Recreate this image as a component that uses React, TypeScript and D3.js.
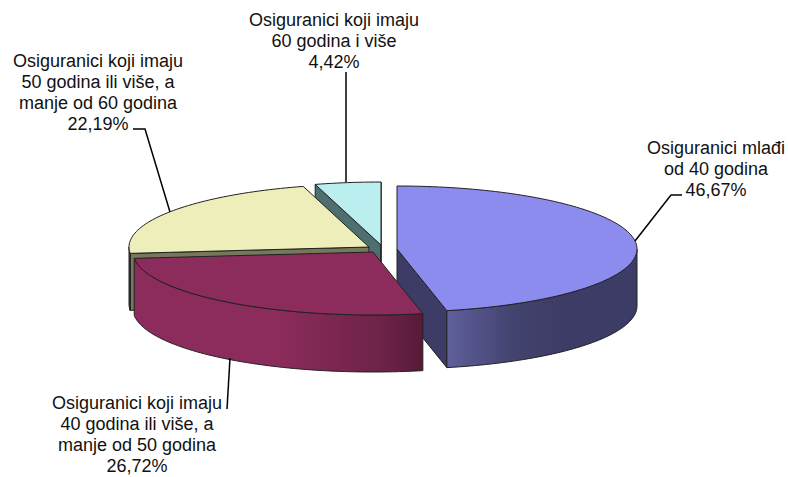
import React from "react";
import * as d3 from "d3";

const categories = ["Osiguranici mlađi od 40 godina", "Osiguranici koji imaju 40 godina ili više, a manje od 50 godina", "Osiguranici koji imaju 50 godina ili više, a manje od 60 godina", "Osiguranici koji imaju 60 godina i više"];
const shares = [46.67, 26.72, 22.19, 4.42];
const valueLabels = ["46,67%", "26,72%", "22,19%", "4,42%"];
const labelLines = [
  ["Osiguranici mlađi", "od 40 godina", "46,67%"],
  ["Osiguranici koji imaju", "40 godina ili više, a", "manje od 50 godina", "26,72%"],
  ["Osiguranici koji imaju", "50 godina ili više, a", "manje od 60 godina", "22,19%"],
  ["Osiguranici koji imaju", "60 godina i više", "4,42%"],
];
const apexes = [[397, 249], [373, 252], [369, 247], [381, 245]];
const labelAnchors = [[716, 154], [137, 409], [98, 67], [334, 26]];
const leaders = [
  [[635, 241], [671, 195], [682, 195]],
  [[230, 358], [227, 409]],
  [[170, 212], [145, 129], [133, 129]],
  [[346, 182], [346, 72]],
];
const topColors = ["#8c8cee", "#8b2c5c", "#eeeebb", "#bbeeee"];
const sideColors = ["#3c3c66", "#8b2c5c", "#77775c", "#4f6f6f"];
const paintOrder = [3, 2, 0, 1];
const RX = 240, RY = 63, DEPTH = 57, LH = 20.9;

const pieGen = d3.pie<number>().sort(null).value((d) => d);
const arcs = pieGen(shares);
const line = d3.line();

function pts(i: number, a0: number, a1: number, dy = 0) {
  const [cx, cy] = apexes[i];
  const n = Math.max(2, Math.ceil(Math.abs(a1 - a0) * 40));
  return d3.range(n + 1).map((k) => {
    const a = a0 + ((a1 - a0) * k) / n;
    return [cx + RX * Math.sin(a), cy - RY * Math.cos(a) + dy] as [number, number];
  });
}
const apex = (i: number, dy = 0) => [apexes[i][0], apexes[i][1] + dy] as [number, number];

function Slice({ i }: { i: number }) {
  const { startAngle: s, endAngle: e } = arcs[i];
  const top = [apex(i), ...pts(i, s, e)];
  const front = Math.max(s, Math.PI / 2);
  const rimEnd = Math.min(e, 1.5 * Math.PI);
  const rim = front < rimEnd ? [...pts(i, front, rimEnd), ...pts(i, rimEnd, front, DEPTH)] : null;
  const rimLeftYellow = i === 2 ? [...pts(i, s, s + 0.02), ...pts(i, s + 0.02, s, DEPTH)] : null;
  const cutFace = (a: number) => [apex(i), pts(i, a, a)[0], pts(i, a, a, DEPTH)[0], apex(i, DEPTH)];
  const fill = i === 0 ? "url(#blueSide)" : i === 1 ? "url(#maroonSide)" : sideColors[i];
  const stroke = { stroke: "#222", strokeWidth: 1, strokeLinejoin: "round" as const };
  return (
    <g>
      {i === 0 && <path d={line(cutFace(e))! + "Z"} fill={sideColors[0]} {...stroke} />}
      {i === 2 && <path d={line(cutFace(s))! + "Z"} fill={sideColors[2]} {...stroke} />}
      {i === 3 && <path d={line(cutFace(s))! + "Z"} fill={sideColors[3]} {...stroke} />}
      {i === 3 && <path d={line(cutFace(e))! + "Z"} fill={sideColors[3]} {...stroke} />}
      {rim && <path d={line(rim)! + "Z"} fill={fill} {...stroke} />}
      {rimLeftYellow && <path d={line(rimLeftYellow)! + "Z"} fill={fill} {...stroke} />}
      <path d={line(top)! + "Z"} fill={topColors[i]} {...stroke} />
    </g>
  );
}

export default function App() {
  return (
    <svg width={788} height={477} style={{ position: "absolute", left: 0, top: 0, background: "#fff" }} fontFamily="'Liberation Sans', Arial, sans-serif" fontSize={18} aria-label={categories.join("; ") + " " + valueLabels.join("; ")}>
      <defs>
        <linearGradient id="blueSide" x1="0" x2="1" y1="0" y2="0">
          <stop offset="0" stopColor="#5f5f9d" />
          <stop offset="0.35" stopColor="#43436f" />
          <stop offset="0.6" stopColor="#3c3c66" />
          <stop offset="1" stopColor="#3c3c66" />
        </linearGradient>
        <linearGradient id="maroonSide" x1="0" x2="1" y1="0" y2="0">
          <stop offset="0" stopColor="#8b2c5c" />
          <stop offset="0.5" stopColor="#8b2c5c" />
          <stop offset="0.85" stopColor="#6e2348" />
          <stop offset="1" stopColor="#581a39" />
        </linearGradient>
      </defs>
      {paintOrder.map((i) => <Slice key={i} i={i} />)}
      {leaders.map((l, i) => (
        <path key={i} d={line(l as [number, number][])!} fill="none" stroke="#000" strokeWidth={1.5} />
      ))}
      {labelLines.map((lines, i) => (
        <text key={i} textAnchor="middle" fill="#111">
          {lines.map((t, j) => (
            <tspan key={j} x={labelAnchors[i][0]} y={labelAnchors[i][1] + j * LH}>{t}</tspan>
          ))}
        </text>
      ))}
    </svg>
  );
}
